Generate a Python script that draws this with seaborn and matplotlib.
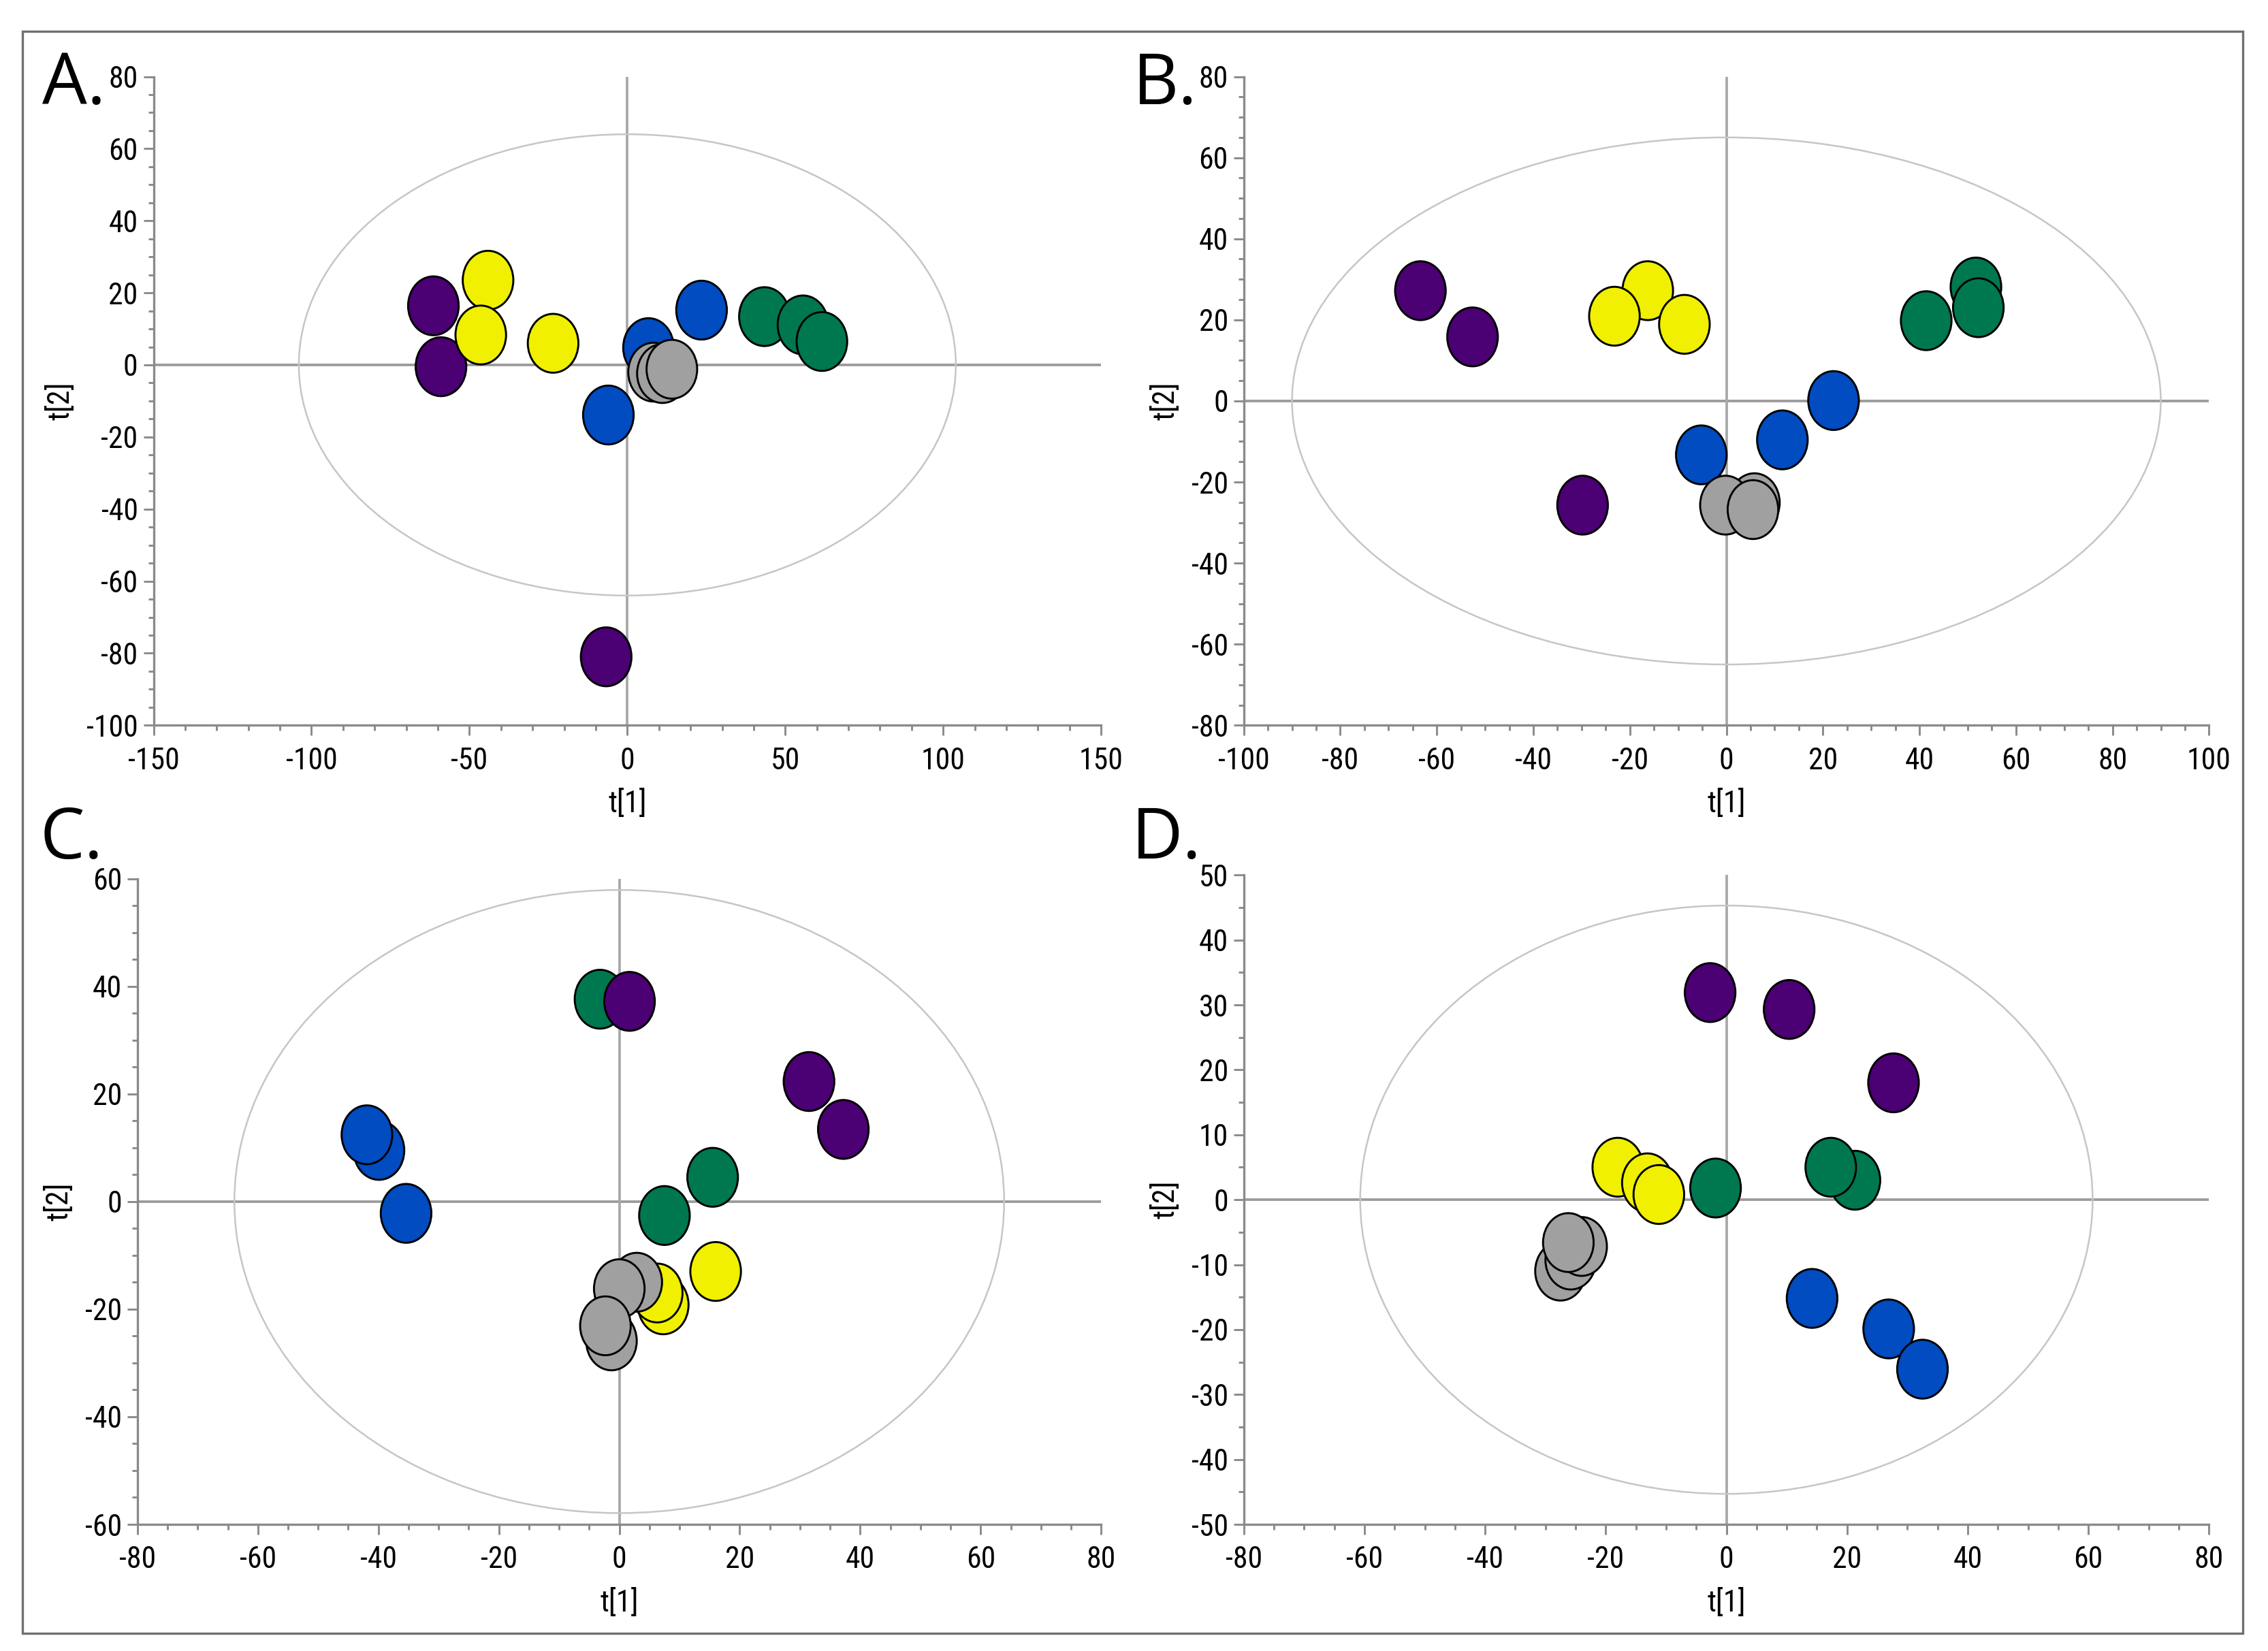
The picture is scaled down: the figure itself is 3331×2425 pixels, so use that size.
import numpy as np
import pandas as pd
import matplotlib.pyplot as plt
import seaborn as sns
from matplotlib.path import Path
from matplotlib.patches import Ellipse, Rectangle
from matplotlib.ticker import MultipleLocator

sns.set_style("ticks")
plt.rcParams['font.family'] = ['Roboto Condensed', 'DejaVu Sans']
plt.rcParams['font.stretch'] = 'condensed'
plt.rcParams['axes.unicode_minus'] = False

# group colours
grp_colors = {"purple": "#4b0073", "yellow": "#f0f000", "blue": "#004cc0",
              "green": "#00784f", "gray": "#a0a0a0"}

# panel A scores
A_t1 = [-61.4, -59.0, -6.7, -44.1, -46.4, -23.5, 6.7, 23.5, -6.0,
        43.4, 55.6, 61.6, 8.3, 11.1, 14.1]
A_t2 = [16.4, -0.5, -81.0, 23.5, 8.3, 6.0, 4.8, 15.2, -13.9,
        13.4, 11.1, 6.5, -2.0, -2.4, -1.2]
A_grp = ["purple"] * 3 + ["yellow"] * 3 + ["blue"] * 3 + ["green"] * 3 + ["gray"] * 3

# panel B scores
B_t1 = [-63.4, -52.6, -29.8, -16.3, -23.2, -8.7, 51.7, 52.2, 41.4,
        22.2, 11.6, -5.2, 5.8, -0.2, 5.5]
B_t2 = [27.2, 15.8, -25.7, 27.2, 20.9, 18.9, 28.1, 23.0, 19.8,
        0.1, -9.6, -13.3, -25.1, -25.7, -26.8]
B_grp = ["purple"] * 3 + ["yellow"] * 3 + ["green"] * 3 + ["blue"] * 3 + ["gray"] * 3

# panel C scores
C_t1 = [-3.2, 7.5, 15.5, 1.7, 31.5, 37.2, -39.9, -41.9, -35.4,
        16.0, 7.3, 6.3, 2.9, 0.0, -1.3, -2.3]
C_t2 = [37.6, -2.6, 4.5, 37.2, 22.3, 13.4, 9.5, 12.4, -2.2,
        -13.0, -19.2, -17.0, -15.0, -16.2, -25.9, -23.1]
C_grp = ["green"] * 3 + ["purple"] * 3 + ["blue"] * 3 + ["yellow"] * 3 + ["gray"] * 4

# panel D scores
D_t1 = [-2.7, 10.4, 27.7, -18.0, -13.1, -11.2, -1.8, 21.3, 17.3,
        14.2, 26.9, 32.5, -27.5, -25.8, -24.0, -26.2]
D_t2 = [31.9, 29.3, 18.0, 5.0, 2.6, 0.8, 1.8, 3.0, 5.0,
        -15.2, -19.9, -26.1, -11.0, -9.3, -7.2, -6.6]
D_grp = ["purple"] * 3 + ["yellow"] * 3 + ["green"] * 3 + ["blue"] * 3 + ["gray"] * 4

panels = [
    dict(label="A.", t1=A_t1, t2=A_t2, grp=A_grp, xlim=(-150, 150), ylim=(-100, 80),
         xmaj=50, xmin=10, ymaj=20, ymin=5, ell=(104, 64),
         pos=[0.0677, 0.5607, 0.4178, 0.3929], lpos=(0.0185, 0.937)),
    dict(label="B.", t1=B_t1, t2=B_t2, grp=B_grp, xlim=(-100, 100), ylim=(-80, 80),
         xmaj=20, xmin=5, ymaj=20, ymin=5, ell=(90, 65),
         pos=[0.5484, 0.5607, 0.4256, 0.3929], lpos=(0.4995, 0.937)),
    dict(label="C.", t1=C_t1, t2=C_t2, grp=C_grp, xlim=(-80, 80), ylim=(-60, 60),
         xmaj=20, xmin=5, ymaj=20, ymin=5, ell=(63.9, 57.9),
         pos=[0.0606, 0.0767, 0.4249, 0.3911], lpos=(0.0175, 0.480)),
    dict(label="D.", t1=D_t1, t2=D_t2, grp=D_grp, xlim=(-80, 80), ylim=(-50, 50),
         xmaj=20, xmin=5, ymaj=10, ymin=5, ell=(60.7, 45.3),
         pos=[0.5484, 0.0767, 0.4256, 0.3933], lpos=(0.4990, 0.480)),
]

# upright oval marker
circ = Path.unit_circle()
oval = Path(circ.vertices * np.array([0.86, 1.0]), circ.codes)

fig = plt.figure(figsize=(3331 / 300, 2425 / 300), dpi=300)
fig.patches.append(Rectangle((0.0099, 0.0107), 0.979, 0.9703, transform=fig.transFigure,
                             fill=False, edgecolor="#707070", lw=0.8))

for p in panels:
    ax = fig.add_axes(p["pos"])
    df = pd.DataFrame({"t1": p["t1"], "t2": p["t2"], "grp": p["grp"]})
    ax.axhline(0, color="#9a9a9a", lw=0.9, zorder=1)
    ax.axvline(0, color="#a8a8a8", lw=0.9, zorder=1)
    a, b = p["ell"]
    ax.add_patch(Ellipse((0, 0), 2 * a, 2 * b, fill=False, edgecolor="#c6c6c6", lw=0.6, zorder=1))
    sns.scatterplot(data=df, x="t1", y="t2", hue="grp", palette=grp_colors, marker=oval,
                    s=430, edgecolor="black", linewidth=0.7, legend=False, ax=ax, zorder=3)
    ax.set_xlim(*p["xlim"])
    ax.set_ylim(*p["ylim"])
    ax.xaxis.set_major_locator(MultipleLocator(p["xmaj"]))
    ax.xaxis.set_minor_locator(MultipleLocator(p["xmin"]))
    ax.yaxis.set_major_locator(MultipleLocator(p["ymaj"]))
    ax.yaxis.set_minor_locator(MultipleLocator(p["ymin"]))
    sns.despine(ax=ax)
    for s in ["left", "bottom"]:
        ax.spines[s].set_color("#8a8a8a")
        ax.spines[s].set_linewidth(0.8)
    ax.tick_params(which="major", length=3.5, width=0.7, color="#8a8a8a",
                   labelsize=10.5, labelcolor="black", pad=2)
    ax.tick_params(axis="x", which="major", pad=4)
    ax.tick_params(which="minor", length=2, width=0.7, color="#8a8a8a")
    ax.set_xlabel("t[1]", fontsize=10.5, labelpad=5, color="black")
    ax.set_ylabel("t[2]", fontsize=10.5, labelpad=4, color="black")
    fig.text(p["lpos"][0], p["lpos"][1], p["label"], fontsize=25, color="black",
             family=["Open Sans", "DejaVu Sans"], stretch="normal",
             va="baseline", ha="left")

fig.savefig("out.png", dpi=300)
